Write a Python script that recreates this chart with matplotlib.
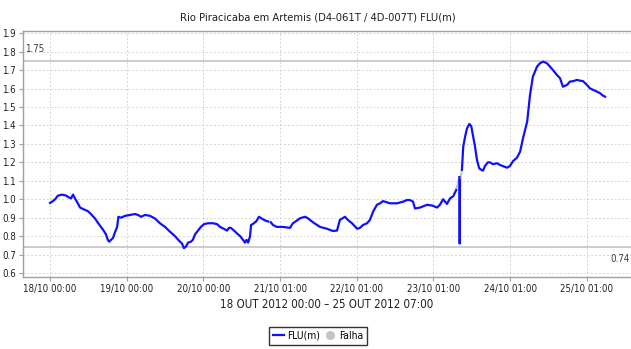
import matplotlib
matplotlib.use("Agg")
import matplotlib.pyplot as plt
import matplotlib.transforms as mtransforms
from matplotlib.lines import Line2D
import numpy as np

plt.rcParams["font.family"] = ["DejaVu Sans"]
plt.rcParams["font.stretch"] = "condensed"

# hours since 18/10 00:00 and river level FLU (m)
hours = [
    0.0, 0.9, 1.6, 2.5, 3.8, 5.0, 5.9, 6.6, 7.2, 7.8, 8.8, 9.4, 10.6, 11.9,
    12.8, 14.1, 15.3, 16.6, 17.5, 18.1, 18.5, 19.1, 19.7, 20.3, 21.0, 21.4,
    22.2, 23.5, 25.0, 26.6, 27.5, 28.5, 29.7, 31.3, 32.9, 34.4, 36.0, 37.5,
    39.1, 40.4, 41.3, 41.9, 42.6, 43.2, 44.1, 44.7, 45.4, 46.3, 47.2, 48.2,
    49.4, 51.0, 52.3, 53.2, 54.4, 55.4, 56.0, 56.6, 57.6, 58.5, 59.5, 60.4,
    61.0, 61.5, 62.0, 62.6, 62.9, 63.8, 64.5, 65.4, 66.3, 67.3, 68.2, 69.1,
    69.8, 71.0, 72.9, 75.1, 76.0, 77.3, 78.2, 79.8, 80.7, 82.3, 84.5, 86.7,
    88.5, 89.8, 90.7, 92.3, 93.2, 94.5, 96.1, 97.0, 97.9, 99.2, 100.1, 101.1,
    102.3, 103.3, 104.2, 106.4, 108.6, 110.5, 111.7, 112.6, 113.6, 114.2,
    115.8, 118.0, 119.8, 121.1, 122.0, 123.0, 124.2, 125.2, 126.2, 127.1,
    128.1, 128.2, 128.3, 128.9, 129.3, 129.9, 130.5, 131.2, 131.8, 132.4,
    133.0, 133.6, 134.3, 134.9, 135.5, 136.1, 137.0, 137.7, 138.6, 139.9,
    140.8, 141.7, 143.0, 143.9, 144.9, 146.1, 147.1, 148.0, 149.3, 150.2,
    151.1, 152.4, 153.3, 154.3, 155.5, 156.4, 157.4, 158.6, 159.6, 160.5,
    161.8, 162.7, 163.7, 164.9, 165.8, 166.8, 168.0, 168.9, 169.9, 171.2,
    172.1, 173.0, 173.7,
]
flu = [
    0.98, 0.99, 1.00, 1.02, 1.025, 1.02, 1.01, 1.005, 1.025, 1.005, 0.975,
    0.955, 0.945, 0.935, 0.92, 0.895, 0.865, 0.835, 0.81, 0.78, 0.77, 0.78,
    0.79, 0.82, 0.85, 0.905, 0.90, 0.91, 0.915, 0.92, 0.915, 0.905, 0.915,
    0.91, 0.895, 0.87, 0.85, 0.825, 0.80, 0.775, 0.76, 0.735, 0.745, 0.765,
    0.77, 0.78, 0.81, 0.83, 0.85, 0.865, 0.87, 0.87, 0.865, 0.85, 0.84,
    0.83, 0.845, 0.845, 0.83, 0.815, 0.80, 0.78, 0.765, 0.78, 0.765, 0.80,
    0.86, 0.87, 0.88, 0.905, 0.895, 0.885, 0.88, 0.875, 0.86, 0.85, 0.85,
    0.845, 0.87, 0.885, 0.897, 0.905, 0.897, 0.875, 0.85, 0.84, 0.828,
    0.83, 0.888, 0.905, 0.888, 0.87, 0.84, 0.845, 0.86, 0.87, 0.888, 0.933,
    0.97, 0.978, 0.99, 0.978, 0.978, 0.987, 0.996, 0.996, 0.987, 0.95,
    0.955, 0.97, 0.965, 0.955, 0.97, 1.0, 0.975, 1.005, 1.017, 1.05, 1.12,
    0.76, 1.10, 1.16, 1.285, 1.34, 1.385, 1.408, 1.397, 1.34, 1.285, 1.213,
    1.168, 1.16, 1.155, 1.18, 1.20, 1.20, 1.19, 1.195, 1.186, 1.18, 1.171,
    1.18, 1.207, 1.225, 1.258, 1.33, 1.42, 1.565, 1.665, 1.719, 1.737,
    1.746, 1.737, 1.72, 1.70, 1.674, 1.656, 1.61, 1.62, 1.638, 1.64, 1.647,
    1.643, 1.64, 1.62, 1.602, 1.593, 1.583, 1.575, 1.562, 1.556,
]
# hour at which a missing-data stretch (Falha) begins
falha_start = [68.2, 127.1, 128.3]

limit_high = 1.75
limit_low = 0.74

tick_hours = [0, 24, 48, 72, 96, 120, 144, 168]
tick_labels = ["18/10 00:00", "19/10 00:00", "20/10 00:00", "21/10 01:00",
               "22/10 01:00", "23/10 01:00", "24/10 01:00", "25/10 01:00"]
y_ticks = [0.6, 0.7, 0.8, 0.9, 1.0, 1.1, 1.2, 1.3, 1.4, 1.5, 1.6, 1.7, 1.8, 1.9]

BLUE = "#1010ff"
GREY = "#c4c4c4"
FRAME = "#a0a0a0"
TEXT = "#202020"

h = np.array(hours)
v = np.array(flu)

# blue series broken at the gaps, grey segments bridging them
bh, bv, gaps = [], [], []
for i in range(len(h)):
    bh.append(h[i])
    bv.append(v[i])
    if i + 1 < len(h) and any(abs(h[i] - s) < 1e-6 for s in falha_start):
        gaps.append(([h[i], h[i + 1]], [v[i], v[i + 1]]))
        bh.append(np.nan)
        bv.append(np.nan)

fig = plt.figure(figsize=(6.31, 3.49), dpi=100)
ax = fig.add_axes([23 / 631, 1 - 277.3 / 349, 1 - 23 / 631, (277.3 - 31) / 349])

ax.set_xlim(-8.45, 181.8)
ax.set_ylim(0.577, 1.912)

ax.grid(True, color="#d4d4d4", ls=(0, (2, 2)), lw=0.7)
ax.set_axisbelow(True)

ax.axhline(limit_high, color="#c8c8c8", lw=1.3, zorder=2)
ax.axhline(limit_low, color="#c8c8c8", lw=1.3, zorder=2)
blend = mtransforms.blended_transform_factory(ax.transAxes, ax.transData)
ax.text(0.004, limit_high + 0.035, f"{limit_high:.2f}", transform=blend,
        ha="left", va="bottom", fontsize=7, color="#404040")
ax.text(0.998, limit_low - 0.035, f"{limit_low:.2f}", transform=blend,
        ha="right", va="top", fontsize=7, color="#404040")

for gx, gy in gaps:
    ax.plot(gx, gy, color=GREY, lw=1.5, zorder=3)
ax.plot(bh, bv, color=BLUE, lw=1.6, zorder=4, solid_joinstyle="round")

ax.set_xticks(tick_hours)
ax.set_xticklabels(tick_labels)
ax.set_yticks(y_ticks)
ax.set_yticklabels([f"{t:.1f}" for t in y_ticks])
ax.tick_params(axis="both", labelsize=7, length=3, color=FRAME,
               labelcolor=TEXT, pad=2)

for side in ("left", "bottom", "top"):
    ax.spines[side].set_color(FRAME)
    ax.spines[side].set_linewidth(1.0)
ax.spines["right"].set_visible(False)

ax.set_xlabel("18 OUT 2012 00:00 \u2013 25 OUT 2012 07:00", fontsize=8.3,
              color=TEXT, labelpad=3)
fig.text(318 / 631, 1 - 17 / 349,
         "Rio Piracicaba em Artemis (D4-061T / 4D-007T) FLU(m)",
         ha="center", va="center", fontsize=8, color=TEXT)

handles = [
    Line2D([0], [0], color=BLUE, lw=1.6, label="FLU(m)"),
    Line2D([0], [0], color=GREY, marker="o", ls="none", markersize=5.5,
           label="Falha"),
]
leg = fig.legend(handles=handles, loc="center",
                 bbox_to_anchor=(318 / 631, 1 - 336 / 349),
                 ncol=2, fontsize=7.5, frameon=True, fancybox=False,
                 handlelength=1.1, handletextpad=0.3, columnspacing=0.4,
                 borderpad=0.35, borderaxespad=0)
leg.get_frame().set_edgecolor("black")
leg.get_frame().set_linewidth(1.0)

fig.savefig("out.png", dpi=100, facecolor="white")
plt.close(fig)
